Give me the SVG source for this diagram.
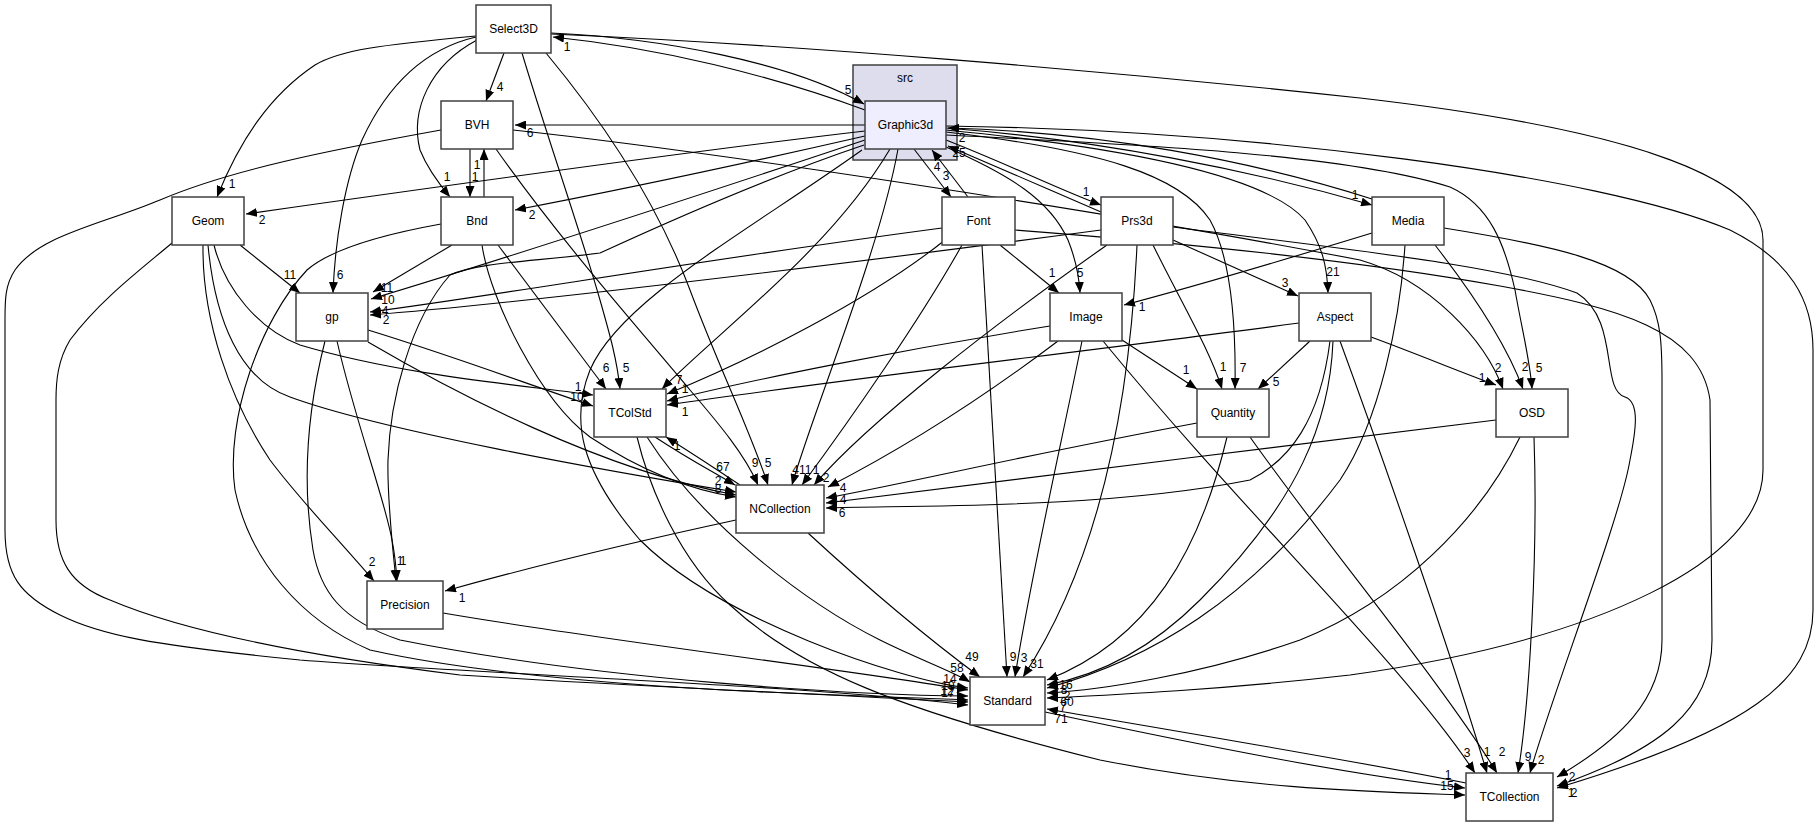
<svg xmlns="http://www.w3.org/2000/svg" width="1819" height="827" viewBox="0 0 1819 827">
<defs>
<marker id="ah" viewBox="0 0 11 9" refX="11" refY="4.5" markerWidth="11" markerHeight="9" markerUnits="userSpaceOnUse" orient="auto"><path d="M0,0 L11,4.5 L0,9 z" fill="#000"/></marker>
<style>
.n rect{fill:#fff;stroke:#404040;stroke-width:1.5}
.g rect{fill:#eeeeff}
.cl{fill:#ddddee;stroke:#404040;stroke-width:1.5}
text{font-family:"Liberation Sans",Arial,sans-serif;font-size:12px;fill:#000}
.n text{text-anchor:middle}
.e path{fill:none;stroke:#000;stroke-width:1.1;marker-end:url(#ah)}
.l text{text-anchor:middle}
</style>
</defs>
<rect width="1819" height="827" fill="#fff"/>
<g id="cluster_src"><rect class="cl" x="853" y="65" width="104" height="95"/><text x="905" y="82" text-anchor="middle">src</text></g>
<g id="connectors">
<g class="e">
<path d="M476,36 C380,45 340,50 315,65 C270,95 240,140 217,197"/>
<path d="M476,37 C420,50 385,90 362,140 C345,180 335,240 333,293"/>
<path d="M477,40 C430,65 410,110 420,150 C428,170 440,185 450,197"/>
<path d="M504,53 L486,101"/>
<path d="M522,53 C545,130 580,230 600,300 C610,335 617,360 620,389"/>
<path d="M546,53 C610,130 660,210 690,290 C720,370 750,430 768,485"/>
<path d="M551,34 C800,45 1100,70 1360,98 C1620,128 1763,175 1763,240 L1763,470 C1763,560 1600,640 1350,675 C1220,690 1110,695 1047,698"/>
<path d="M551,33 C660,38 790,62 864,104"/>
<path d="M865,110 C770,75 660,48 553,37"/>
<path d="M865,125 L515,125"/>
<path d="M513,130 C700,150 1100,210 1360,260 C1430,280 1485,340 1503,389"/>
<path d="M865,131 C700,150 450,185 246,214"/>
<path d="M865,136 C760,160 620,190 515,210"/>
<path d="M865,140 C700,195 500,260 371,299"/>
<path d="M864,145 C760,180 650,230 600,253 C530,262 480,262 450,275 C410,320 390,400 388,460 C387,500 393,550 396,581"/>
<path d="M862,150 C750,230 620,300 590,370 C570,420 580,470 640,540 C720,620 900,680 968,688"/>
<path d="M890,149 C830,250 720,330 662,389"/>
<path d="M898,149 C880,250 810,420 792,485"/>
<path d="M914,149 L951,197"/>
<path d="M968,197 L932,150"/>
<path d="M946,140 C1010,165 1060,190 1101,205"/>
<path d="M1101,212 C1050,190 1000,168 948,146"/>
<path d="M946,147 C1010,175 1050,200 1068,240 C1076,260 1079,275 1080,293"/>
<path d="M946,132 C1100,150 1180,175 1210,220 C1232,260 1236,330 1235,389"/>
<path d="M946,130 C1150,150 1270,180 1305,220 C1322,245 1327,265 1328,293"/>
<path d="M946,135 C1150,145 1350,155 1450,187 C1490,205 1505,245 1515,290 C1522,330 1530,360 1532,389"/>
<path d="M946,128 C1100,140 1250,170 1372,205"/>
<path d="M1372,199 C1250,160 1100,132 948,128"/>
<path d="M946,126 C1250,130 1600,175 1730,230 C1790,260 1813,300 1813,350 L1813,610 C1813,680 1750,730 1557,788"/>
<path d="M470,149 L470,197"/>
<path d="M484,197 L484,149"/>
<path d="M496,149 C560,240 640,330 690,390 C720,425 745,455 758,485"/>
<path d="M441,130 C330,150 230,170 160,200 C100,225 40,235 15,270 C5,285 5,300 5,320 L5,530 C5,575 20,595 60,615 C100,635 150,645 300,660 C500,675 800,685 968,705"/>
<path d="M452,245 L373,292"/>
<path d="M498,245 L606,389"/>
<path d="M482,245 C490,300 540,400 590,437 C640,470 690,490 736,497"/>
<path d="M441,224 C380,235 330,250 307,270 C260,320 225,420 235,490 C250,560 300,620 370,650 C550,690 850,695 968,700"/>
<path d="M240,245 L300,293"/>
<path d="M214,245 C225,290 260,330 300,345 C400,375 520,385 593,395"/>
<path d="M208,245 C215,320 240,380 290,397 C380,430 600,470 736,492"/>
<path d="M203,245 C202,320 230,400 270,460 C300,500 330,530 374,581"/>
<path d="M172,243 C140,270 100,300 70,340 C58,360 56,380 56,400 L56,520 C56,560 70,585 110,600 C180,630 300,655 460,675 C700,690 900,698 968,702"/>
<path d="M942,228 C700,260 500,295 370,312"/>
<path d="M945,240 C870,300 750,360 667,394"/>
<path d="M962,245 C920,320 850,420 802,485"/>
<path d="M1000,245 L1059,293"/>
<path d="M982,245 C990,400 1000,550 1007,677"/>
<path d="M1015,230 C1250,248 1400,268 1500,286 C1620,308 1700,330 1710,400 L1712,640 C1712,710 1660,750 1557,786"/>
<path d="M1101,230 C800,270 500,305 370,315"/>
<path d="M1107,245 C1000,320 870,420 814,485"/>
<path d="M1137,245 C1130,400 1100,560 1023,677"/>
<path d="M1153,245 C1180,300 1210,350 1222,389"/>
<path d="M1173,240 L1298,296"/>
<path d="M1173,227 C1350,250 1500,265 1577,293 C1620,320 1600,390 1625,397 C1640,402 1636,430 1630,460 C1620,520 1550,700 1530,773"/>
<path d="M1372,233 C1300,255 1200,285 1124,305"/>
<path d="M1405,245 C1400,320 1380,420 1340,480 C1250,600 1150,660 1047,688"/>
<path d="M1435,245 C1470,290 1505,340 1523,389"/>
<path d="M1444,228 C1550,245 1630,262 1650,300 C1660,320 1662,340 1662,380 L1662,640 C1662,700 1620,740 1557,777"/>
<path d="M368,330 C450,355 530,385 593,406"/>
<path d="M368,342 C450,390 600,470 736,495"/>
<path d="M337,341 C355,420 385,500 392,540 C395,555 396,565 397,581"/>
<path d="M325,341 C310,400 300,470 313,550 C320,590 340,620 400,640 C600,680 850,695 968,696"/>
<path d="M1050,326 C900,350 750,380 667,401"/>
<path d="M1058,341 C980,400 900,450 828,487"/>
<path d="M1122,340 L1197,389"/>
<path d="M1082,341 C1060,450 1030,580 1015,677"/>
<path d="M1103,341 C1250,520 1400,660 1475,773"/>
<path d="M1299,323 C1100,350 850,378 667,405"/>
<path d="M1310,341 L1258,389"/>
<path d="M1371,337 C1420,355 1460,372 1496,385"/>
<path d="M1330,341 C1320,420 1290,460 1250,480 C1100,510 900,505 826,508"/>
<path d="M1333,341 C1330,420 1300,500 1200,600 C1150,650 1100,675 1047,685"/>
<path d="M1340,341 C1380,450 1450,650 1487,773"/>
<path d="M655,437 C690,460 710,470 735,485"/>
<path d="M647,437 C700,520 800,600 880,640 C920,660 950,670 970,682"/>
<path d="M637,437 C650,490 680,560 730,605 C800,670 900,710 1100,760 C1250,790 1380,792 1465,795"/>
<path d="M1197,423 C1000,460 900,485 826,498"/>
<path d="M1227,437 C1200,550 1150,640 1047,680"/>
<path d="M1250,437 C1330,550 1440,680 1497,773"/>
<path d="M1496,420 C1300,445 1000,480 826,503"/>
<path d="M1520,437 C1480,520 1400,600 1300,640 C1200,675 1100,690 1047,693"/>
<path d="M1534,437 C1538,550 1530,700 1518,773"/>
<path d="M740,485 C710,465 690,452 666,437"/>
<path d="M736,520 C620,545 520,570 445,591"/>
<path d="M808,533 C870,590 930,640 980,677"/>
<path d="M443,613 C600,640 850,670 968,690"/>
<path d="M1045,712 C1200,745 1350,775 1465,788"/>
<path d="M1466,783 C1350,760 1200,735 1047,709"/>
</g>
<g class="l">
<text x="232" y="188">1</text><text x="340" y="279">6</text><text x="447" y="181">1</text><text x="500" y="91">4</text>
<text x="626" y="372">5</text><text x="768" y="467">5</text><text x="755" y="467">9</text><text x="848" y="94">5</text>
<text x="567" y="51">1</text><text x="530" y="137">6</text><text x="1498" y="372">2</text><text x="262" y="224">2</text>
<text x="532" y="219">2</text><text x="388" y="304">10</text><text x="387" y="292">11</text><text x="385" y="315">4</text>
<text x="386" y="324">2</text><text x="290" y="279">11</text><text x="578" y="391">1</text><text x="577" y="401">10</text>
<text x="723" y="471">67</text><text x="718" y="485">2</text><text x="718" y="493">8</text><text x="606" y="372">6</text>
<text x="400" y="565">1</text><text x="403" y="565">1</text><text x="372" y="566">2</text><text x="462" y="602">1</text>
<text x="972" y="661">49</text><text x="957" y="672">58</text><text x="1061" y="723">71</text>
<text x="799" y="474">41</text><text x="808" y="474">1</text><text x="816" y="474">1</text><text x="826" y="482">2</text>
<text x="843" y="492">4</text><text x="843" y="504">4</text><text x="842" y="517">6</text>
<text x="679" y="384">7</text><text x="685" y="393">1</text><text x="685" y="416">1</text><text x="677" y="450">1</text>
<text x="937" y="171">4</text><text x="946" y="180">3</text><text x="962" y="142">2</text><text x="959" y="157">25</text>
<text x="1086" y="196">1</text><text x="1080" y="277">5</text><text x="1052" y="277">1</text>
<text x="1013" y="661">9</text><text x="1024" y="662">3</text><text x="1037" y="668">31</text>
<text x="1223" y="371">1</text><text x="1243" y="372">7</text><text x="1285" y="287">3</text><text x="1333" y="276">21</text>
<text x="1355" y="199">1</text><text x="1539" y="372">5</text><text x="1525" y="371">2</text><text x="1482" y="382">1</text>
<text x="1276" y="386">5</text><text x="1186" y="374">1</text><text x="1142" y="311">1</text>
<text x="1467" y="757">3</text><text x="1487" y="756">1</text><text x="1502" y="756">2</text><text x="1528" y="761">9</text><text x="1541" y="764">2</text>
<text x="1572" y="781">2</text><text x="1571" y="797">1</text><text x="1574" y="797">2</text><text x="1448" y="779">1</text><text x="1447" y="790">15</text>
<text x="950" y="683">14</text><text x="948" y="690">19</text><text x="947" y="695">12</text><text x="948" y="697">17</text>
<text x="1066" y="689">16</text><text x="1064" y="694">8</text><text x="1067" y="700">2</text><text x="1067" y="706">60</text><text x="1063" y="711">7</text>
<text x="477" y="169">1</text><text x="475" y="181">1</text>
</g>
</g>
<g id="node_Select3D" class="n"><rect x="476" y="5" width="75" height="48"/><text x="513.5" y="33">Select3D</text></g>
<g id="node_Graphic3d" class="n g"><rect x="865" y="101" width="81" height="48"/><text x="905.5" y="129">Graphic3d</text></g>
<g id="node_BVH" class="n"><rect x="441" y="101" width="72" height="48"/><text x="477" y="129">BVH</text></g>
<g id="node_Geom" class="n"><rect x="172" y="197" width="72" height="48"/><text x="208" y="225">Geom</text></g>
<g id="node_Bnd" class="n"><rect x="441" y="197" width="72" height="48"/><text x="477" y="225">Bnd</text></g>
<g id="node_Font" class="n"><rect x="942" y="197" width="73" height="48"/><text x="978.5" y="225">Font</text></g>
<g id="node_Prs3d" class="n"><rect x="1101" y="197" width="72" height="48"/><text x="1137" y="225">Prs3d</text></g>
<g id="node_Media" class="n"><rect x="1372" y="197" width="72" height="48"/><text x="1408" y="225">Media</text></g>
<g id="node_gp" class="n"><rect x="296" y="293" width="72" height="48"/><text x="332" y="321">gp</text></g>
<g id="node_Image" class="n"><rect x="1050" y="293" width="72" height="48"/><text x="1086" y="321">Image</text></g>
<g id="node_Aspect" class="n"><rect x="1299" y="293" width="72" height="48"/><text x="1335" y="321">Aspect</text></g>
<g id="node_TColStd" class="n"><rect x="594" y="389" width="72" height="48"/><text x="630" y="417">TColStd</text></g>
<g id="node_Quantity" class="n"><rect x="1197" y="389" width="72" height="48"/><text x="1233" y="417">Quantity</text></g>
<g id="node_OSD" class="n"><rect x="1496" y="389" width="72" height="48"/><text x="1532" y="417">OSD</text></g>
<g id="node_NCollection" class="n"><rect x="736" y="485" width="88" height="48"/><text x="780" y="513">NCollection</text></g>
<g id="node_Precision" class="n"><rect x="367" y="581" width="76" height="48"/><text x="405" y="609">Precision</text></g>
<g id="node_Standard" class="n"><rect x="970" y="677" width="75" height="48"/><text x="1007.5" y="705">Standard</text></g>
<g id="node_TCollection" class="n"><rect x="1466" y="773" width="87" height="48"/><text x="1509.5" y="801">TCollection</text></g>
</svg>
